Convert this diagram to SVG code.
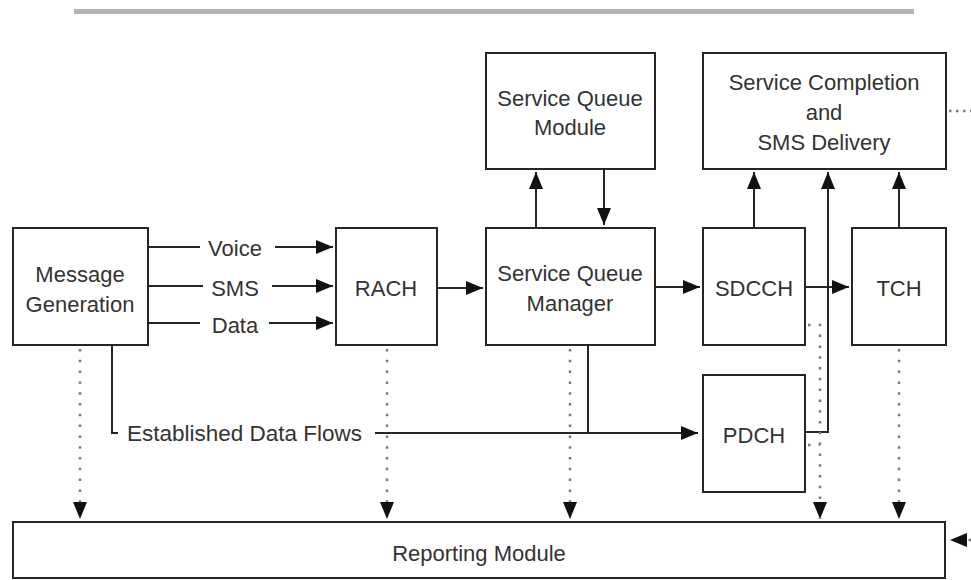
<svg xmlns="http://www.w3.org/2000/svg" width="971" height="580" viewBox="0 0 971 580">
<style>
.box{fill:#fff;stroke:#262626;stroke-width:2}
.t{font-family:"Liberation Sans",Arial,sans-serif;font-size:22px;fill:#333;text-anchor:middle}
.ln{fill:none;stroke:#262626;stroke-width:2}
.dot{fill:none;stroke:#7a7a7a;stroke-width:2.5;stroke-dasharray:2.5 8.3}
</style>
<defs>
<marker id="ah" markerUnits="userSpaceOnUse" markerWidth="20" markerHeight="16" refX="17" refY="7" orient="auto">
<path d="M0,0 L17,7 L0,14 z" fill="#111"/>
</marker>
</defs>
<rect x="74" y="9" width="840" height="5" fill="#b3b3b3"/>
<g id="connectors">
<path class="ln" d="M148,247 H200 M275,247 H333" marker-end="url(#ah)"/>
<path class="ln" d="M148,286 H203 M272,286 H333" marker-end="url(#ah)"/>
<path class="ln" d="M148,323 H200 M269,323 H333" marker-end="url(#ah)"/>
<path class="ln" d="M437,288 H483" marker-end="url(#ah)"/>
<path class="ln" d="M655,287 H700" marker-end="url(#ah)"/>
<path class="ln" d="M805,287 H849" marker-end="url(#ah)"/>
<path class="ln" d="M536,228 V172" marker-end="url(#ah)"/>
<path class="ln" d="M604,170 V225" marker-end="url(#ah)"/>
<path class="ln" d="M754,228 V172" marker-end="url(#ah)"/>
<path class="ln" d="M899,228 V172" marker-end="url(#ah)"/>
<path class="ln" d="M805,432 H828 V172" marker-end="url(#ah)"/>
<path class="ln" d="M112,346 V433 H118"/>
<path class="ln" d="M375,433 H698" marker-end="url(#ah)"/>
<path class="ln" d="M588,346 V433"/>
<path class="dot" d="M80,349 V519" marker-end="url(#ah)"/>
<path class="dot" d="M387,349 V519" marker-end="url(#ah)"/>
<path class="dot" d="M570,349 V519" marker-end="url(#ah)"/>
<path class="dot" d="M808,325 H820 V519" marker-end="url(#ah)"/>
<path class="dot" d="M808,445 H820"/>
<path class="dot" d="M899,349 V519" marker-end="url(#ah)"/>
<path class="dot" d="M949,111 H971" style="stroke-dasharray:2.5 4.5"/>
<path class="dot" d="M971,540 H950" marker-end="url(#ah)"/>
</g>
<g id="message-generation">
<rect class="box" x="13" y="228" width="135" height="117"/>
<text class="t" x="80" y="282">Message</text>
<text class="t" x="80" y="312">Generation</text>
</g>
<g id="labels">
<text class="t" x="235" y="256">Voice</text>
<text class="t" x="235" y="296">SMS</text>
<text class="t" x="235" y="333">Data</text>
<text class="t" x="127" y="441" style="text-anchor:start;font-size:22.5px">Established Data Flows</text>
</g>
<g id="rach">
<rect class="box" x="336" y="228" width="101" height="117"/>
<text class="t" x="386" y="296">RACH</text>
</g>
<g id="service-queue-manager">
<rect class="box" x="486" y="228" width="169" height="117"/>
<text class="t" x="570" y="281">Service Queue</text>
<text class="t" x="570" y="311">Manager</text>
</g>
<g id="service-queue-module">
<rect class="box" x="486" y="53" width="169" height="116"/>
<text class="t" x="570" y="106">Service Queue</text>
<text class="t" x="570" y="135">Module</text>
</g>
<g id="service-completion">
<rect class="box" x="703" y="53" width="243" height="116"/>
<text class="t" x="824" y="90">Service Completion</text>
<text class="t" x="824" y="120">and</text>
<text class="t" x="824" y="150">SMS Delivery</text>
</g>
<g id="sdcch">
<rect class="box" x="703" y="228" width="102" height="117"/>
<text class="t" x="754" y="296">SDCCH</text>
</g>
<g id="tch">
<rect class="box" x="852" y="228" width="94" height="117"/>
<text class="t" x="899" y="296">TCH</text>
</g>
<g id="pdch">
<rect class="box" x="703" y="375" width="102" height="117"/>
<text class="t" x="754" y="443">PDCH</text>
</g>
<g id="reporting-module">
<rect class="box" x="13" y="522" width="932" height="56"/>
<text class="t" x="479" y="561">Reporting Module</text>
</g>
</svg>
